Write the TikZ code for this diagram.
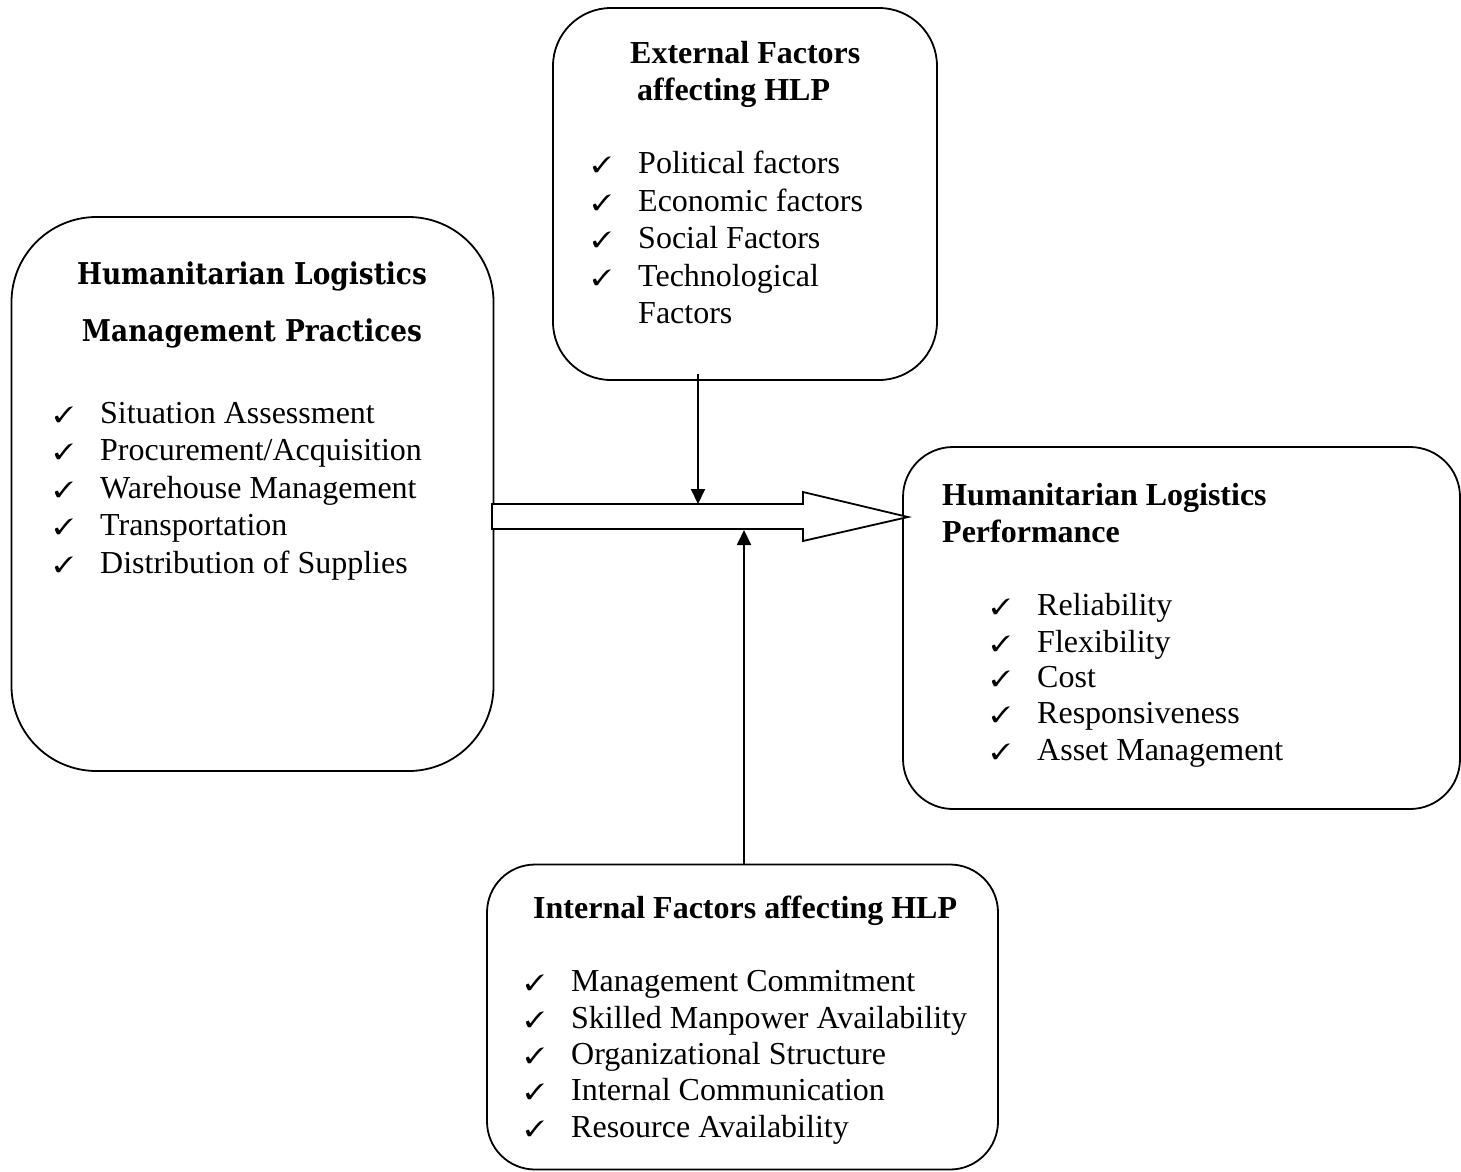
\documentclass[tikz,border=0pt]{standalone}
\usepackage{fontspec}
\usepackage{pifont}
\setmainfont{Liberation Serif}
\newfontfamily\headfont[FakeStretch=0.88]{DejaVu Serif}
\usetikzlibrary{arrows.meta}
\newcommand\chkmark{\makebox[46pt][l]{\raisebox{1pt}{\scalebox{1}[0.85]{\fontsize{26}{26}\selectfont\ding{51}}}}}
\tikzset{
  box/.style={draw, line width=1.8pt, rounded corners=#1, inner sep=0pt},
  itm/.style={anchor=base west, inner sep=0pt, font=\fontsize{32}{37}\selectfont},
  hd/.style={anchor=base west, inner sep=0pt, font=\fontsize{32}{37}\selectfont\bfseries},
  lhd/.style={anchor=base, inner sep=0pt, font=\headfont\fontsize{30}{34}\selectfont\bfseries},
  conn/.style={line width=1.9pt, -{Triangle[length=15pt,width=14pt]}},
  blockarrow/.style={draw, line width=1.8pt, fill=white, line join=miter}
}
\begin{document}
\begin{tikzpicture}[x=1pt,y=-1pt]
\useasboundingbox (0,0) rectangle (1461,1171);

% boxes
\node[box=58pt, minimum width=384pt, minimum height=372pt] (ext) at (745,194) {};
\node[box=85pt, minimum width=482pt, minimum height=554pt] (hlmp) at (252.5,494) {};
\node[box=50pt, minimum width=557pt, minimum height=362pt] (hlp) at (1181.5,628) {};
\node[box=48pt, minimum width=511pt, minimum height=305pt] (int) at (742.5,1017) {};

% external factors
\node[hd] (exth1) at (630,63) {External Factors};
\node[hd] (exth2) at (637,100) {affecting HLP};
\node[itm] (ext1) at (592,173) {\chkmark Political factors};
\node[itm] (ext2) at (592,211) {\chkmark Economic factors};
\node[itm] (ext3) at (592,248) {\chkmark Social Factors};
\node[itm] (ext4) at (592,286) {\chkmark Technological};
\node[itm] (ext5) at (638,323) {Factors};

% HLM practices
\node[lhd] (hlmph1) at (252,284) {Humanitarian Logistics};
\node[lhd] (hlmph2) at (252,341) {Management Practices};
\node[itm] (hlmp1) at (54,423) {\chkmark Situation Assessment};
\node[itm] (hlmp2) at (54,460) {\chkmark Procurement/Acquisition};
\node[itm] (hlmp3) at (54,498) {\chkmark Warehouse Management};
\node[itm] (hlmp4) at (54,535) {\chkmark Transportation};
\node[itm] (hlmp5) at (54,573) {\chkmark Distribution of Supplies};

% HL performance
\node[hd] (hlph1) at (942,505) {Humanitarian Logistics};
\node[hd] (hlph2) at (942,542) {Performance};
\node[itm] (hlp1) at (991,615) {\chkmark Reliability};
\node[itm] (hlp2) at (991,652) {\chkmark Flexibility};
\node[itm] (hlp3) at (991,687) {\chkmark Cost};
\node[itm] (hlp4) at (991,723) {\chkmark Responsiveness};
\node[itm] (hlp5) at (991,760) {\chkmark Asset Management};

% internal factors
\node[hd] (inth) at (533,918) {Internal Factors affecting HLP};
\node[itm] (int1) at (525,991) {\chkmark Management Commitment};
\node[itm] (int2) at (525,1028) {\chkmark Skilled Manpower Availability};
\node[itm] (int3) at (525,1064) {\chkmark Organizational Structure};
\node[itm] (int4) at (525,1100) {\chkmark Internal Communication};
\node[itm] (int5) at (525,1137) {\chkmark Resource Availability};

% block arrow
\coordinate (ba1) at (492,504);
\coordinate (ba2) at (803,504);
\coordinate (ba3) at (803,492);
\coordinate (batip) at (908,517);
\coordinate (ba4) at (803,541);
\coordinate (ba5) at (803,529);
\coordinate (ba6) at (492,529);
\draw[blockarrow] (ba1) -- (ba2) -- (ba3) -- (batip) -- (ba4) -- (ba5) -- (ba6) -- cycle;

% thin arrows
\coordinate (dtip) at (698,504);
\coordinate (utip) at (744,530);
\draw[conn] ([yshift=7pt]ext.south -| dtip) -- (dtip);
\draw[conn] (int.north -| utip) -- (utip);
\end{tikzpicture}
\end{document}
